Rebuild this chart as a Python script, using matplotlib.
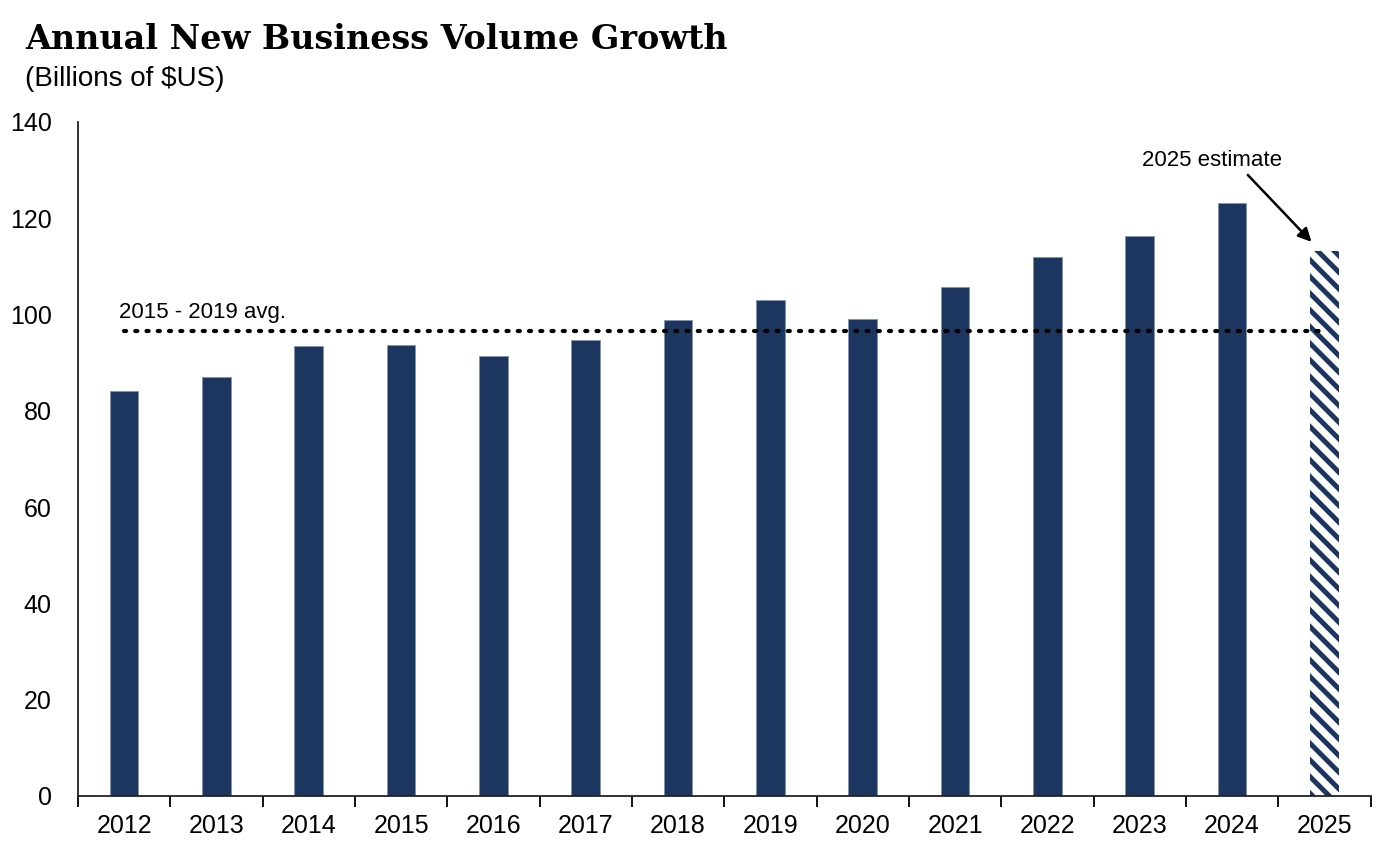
import matplotlib
matplotlib.use("Agg")
import matplotlib.pyplot as plt
import numpy as np

years = ["2012", "2013", "2014", "2015", "2016", "2017", "2018",
         "2019", "2020", "2021", "2022", "2023", "2024", "2025"]
volume = [84.1, 87.0, 93.5, 93.7, 91.4, 94.7, 98.9,
          103.0, 99.1, 105.7, 112.0, 116.3, 123.2, 113.2]
avg_value = 96.5
yticks = [0, 20, 40, 60, 80, 100, 120, 140]

navy = "#1d365f"
plt.rcParams['font.family'] = ['Liberation Sans', 'DejaVu Sans']
plt.rcParams['hatch.linewidth'] = 3.6
plt.rcParams['hatch.color'] = navy

fig = plt.figure(figsize=(14, 8.56), dpi=100)
ax = fig.add_axes([0.0557, 0.0701, 0.9233, 0.7874])

x = np.arange(len(years))
ax.bar(x[:-1], volume[:-1], width=0.31, color=navy, edgecolor="#8093b0", linewidth=0.6, zorder=2)
ax.bar(x[-1:], volume[-1:], width=0.31, color="white", edgecolor=navy, linewidth=0,
       hatch="\\\\", zorder=2)

ax.plot([x[0], x[-1]], [avg_value, avg_value], linestyle=(0, (0.5, 2.2)), color="black",
        linewidth=3, dash_capstyle="round", zorder=3)
ax.text(-0.06, avg_value + 1.8, "2015 - 2019 avg.", fontsize=16, ha="left", va="bottom")

ax.text(x[-1] - 1.22, 132.1, "2025 estimate", fontsize=16, ha="center", va="center")
ax.annotate("", xy=(x[-1] - 0.14, 115.1), xytext=(x[-1] - 0.83, 129.0),
            arrowprops=dict(arrowstyle="-|>,head_length=0.8,head_width=0.4", color="black", lw=1.8,
                            shrinkA=0, shrinkB=0))

ax.set_xlim(-0.5, len(years) - 0.5)
ax.set_ylim(0, 140)
ax.set_yticks(yticks)
ax.set_yticklabels([str(t) for t in yticks], fontsize=18)
ax.tick_params(axis='y', length=0, pad=19)
ax.set_xticks(x)
ax.set_xticklabels(years, fontsize=18)
ax.tick_params(axis='x', length=0, pad=13)
ax.set_xticks(np.arange(-0.5, len(years), 1.0), minor=True)
ax.tick_params(axis='x', which='minor', length=8, width=1.3, direction='out')

for s in ["top", "right"]:
    ax.spines[s].set_visible(False)
for s in ["left", "bottom"]:
    ax.spines[s].set_linewidth(1.3)
    ax.spines[s].set_color("#222222")

fig.text(0.018, 0.943, "Annual New Business Volume Growth", fontsize=24, fontweight="bold",
         family=["DejaVu Serif"], ha="left", va="baseline")
fig.text(0.018, 0.90, "(Billions of $US)", fontsize=20, ha="left", va="baseline")

fig.savefig("out.png", dpi=100, facecolor="white")
